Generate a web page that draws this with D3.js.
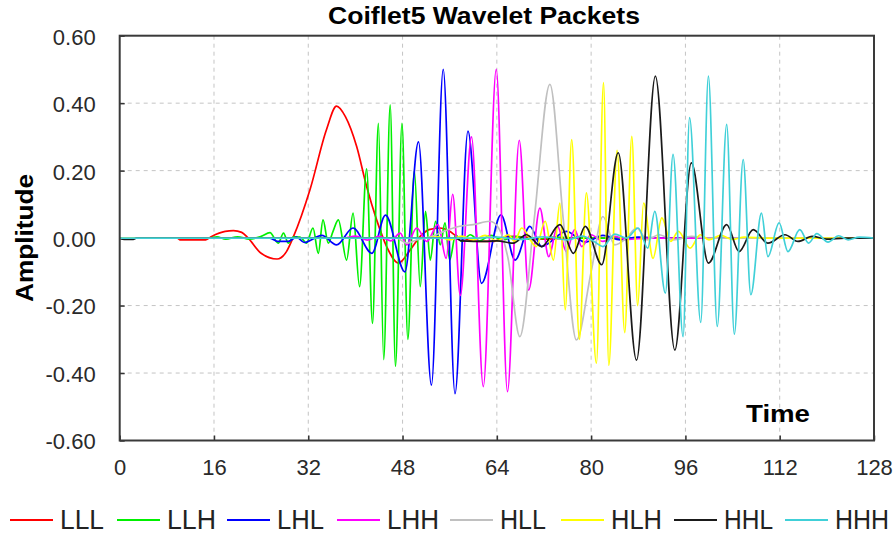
<!DOCTYPE html>
<html><head><meta charset="utf-8">
<script src="https://cdn.jsdelivr.net/npm/d3@7"></script>
<style>body{margin:0;background:#fff}svg{display:block}</style>
</head><body><svg id="c" width="895" height="537"></svg>
<script>
const seriesNames = ["LLL","LLH","LHL","LHH","HLL","HLH","HHL","HHH"];
const seriesColors = ["#ff0000","#00f000","#0000ff","#ff00ff","#c0c0c0","#ffff00","#1a1a1a","#40d0d8"];
const xTicks = [0,16,32,48,64,80,96,112,128];
const yTicks = [-0.6,-0.4,-0.2,0,0.2,0.4,0.6];

const LLL = [[0,0],[9.8,0],[10.2,-0.005],[14.6,-0.005],[15.6,0.005],[17.9,0.02],[19.3,0.022],[20.7,0.017],[21.8,0],[24,-0.045],[26.7,-0.062],[28.3,-0.04],[29.5,0.005],[32.3,0.144],[35.1,0.322],[36.8,0.391],[38.3,0.36],[40.2,0.272],[41.9,0.153],[43.6,0.054],[45.3,-0.025],[47.3,-0.074],[49.3,-0.035],[51,0.005],[52.5,0.025],[54.3,0.03],[56,0.02],[57.2,0.005],[59,-0.005],[61,-0.01],[63.3,-0.01],[66,0.005],[69,0.003],[72,-0.003],[76,0],[128,0]];
const LLH = [[0,0],[15.3,0],[16.5,0.004],[18,-0.003],[20,0.004],[22,-0.003],[24,0.005],[25.5,0.016],[26.9,-0.015],[27.8,0.015],[28.6,-0.015],[29.5,0.004],[30.6,0.003],[31.7,-0.015],[32.8,0.03],[33.7,-0.045],[34.5,0.054],[35.4,-0.015],[36.2,0.02],[37.1,0.054],[38.5,-0.065],[39.6,0.074],[40.7,-0.144],[41.9,0.205],[42.9,-0.253],[43.9,0.34],[44.8,-0.36],[45.9,0.395],[46.8,-0.38],[47.9,0.34],[48.9,-0.30],[50.0,0.20],[51.0,-0.144],[51.9,0.079],[52.7,-0.065],[53.6,0.05],[54.4,-0.02],[55.2,0.045],[56,-0.065],[57,0.01],[58,-0.01],[59.5,0.01],[61,-0.008],[63,0.008],[65,-0.006],[67,0.005],[70,-0.004],[74,0.003],[78,0],[128,0]];
const LHL = [[0,0],[25.5,0],[26.8,-0.01],[28.6,-0.01],[30,0.003],[31.3,-0.013],[34.3,0.008],[36.8,-0.02],[39.6,0.03],[42.8,-0.045],[45.1,0.068],[48.4,-0.10],[50.7,0.285],[52.9,-0.436],[54.9,0.50],[56.9,-0.461],[59.1,0.317],[61.4,-0.134],[64.7,0.069],[67.1,-0.065],[69.6,0.035],[71.6,-0.025],[75.8,0.02],[79,-0.012],[82,0.008],[85,-0.005],[88,0.003],[92,0],[128,0]];
const LHH = [[0,0],[38,0],[40,0.006],[42,-0.006],[44,0.005],[46,-0.008],[47.6,0.015],[48.7,-0.02],[50.4,0.03],[52.1,-0.01],[54.0,0.04],[55.4,-0.06],[56.5,0.13],[57.8,-0.17],[59.7,0.30],[61.7,-0.44],[63.9,0.50],[65.8,-0.455],[67.8,0.29],[69.4,-0.154],[71.3,0.089],[72.8,-0.055],[74.3,0.035],[75.8,-0.04],[77.2,0.025],[78.4,-0.025],[80,0.01],[82,-0.01],[84,0.005],[86,-0.004],[90,0],[128,0]];
const HLL = [[0,0],[47,0],[48.7,-0.015],[50.5,-0.005],[53,0.005],[55,0.02],[57.7,0.035],[60,0.04],[62.8,0.05],[64.3,0.03],[65.9,-0.06],[67.9,-0.292],[70.3,0.05],[73.0,0.456],[75.3,0.05],[77.5,-0.302],[80,-0.1],[82.0,0.064],[84,-0.02],[86,0.0],[87.7,0.03],[89.5,-0.005],[91.5,0.01],[94,-0.005],[97,0.005],[100,0],[128,0]];
const HLH = [[0,0],[52,0],[54,0.004],[56,-0.005],[58,0.006],[60,-0.006],[62,0.008],[64,-0.008],[66,0.01],[67,-0.01],[68.2,0.03],[70.7,-0.025],[72.2,0.05],[73.6,-0.065],[74.7,0.104],[75.6,-0.213],[76.7,0.292],[78.0,-0.30],[79.2,0.134],[80.9,-0.371],[82.1,0.461],[83.0,-0.377],[84.4,0.26],[85.7,-0.28],[86.9,0.302],[87.9,-0.2],[88.9,0.104],[90.5,-0.06],[92,0.06],[93.5,-0.01],[94.8,0.02],[96.8,-0.03],[98.5,0.01],[100,-0.005],[102,0.008],[104,-0.004],[106,0.003],[110,0],[128,0]];
const HHL = [[0,0],[0.8,-0.004],[2.3,-0.004],[2.8,0],[57,0],[58,-0.008],[62,-0.01],[64,-0.008],[66.8,-0.015],[69,0.01],[71.6,-0.025],[74.7,0.04],[77,-0.045],[79,0.035],[81.8,-0.079],[84.6,0.253],[87.7,-0.362],[90.9,0.48],[94.2,-0.332],[97.0,0.223],[99.9,-0.074],[103,0.04],[105.1,-0.04],[107.5,0.025],[110,-0.015],[112.9,0.01],[115.1,-0.01],[117.5,0.005],[120,-0.003],[123,0],[128,0]];
const HHH = [[0,0],[60,0],[64,0.003],[68,-0.004],[72,0.004],[76,-0.005],[78.5,0.006],[80.5,-0.01],[82,-0.025],[84,0.012],[86,0.0],[88,0.03],[89.6,-0.03],[90.8,0.079],[92.6,-0.163],[93.9,0.248],[95.6,-0.292],[96.7,0.357],[98.6,-0.25],[99.9,0.48],[101.4,-0.262],[103.0,0.337],[104.3,-0.285],[105.8,0.233],[107.1,-0.168],[108.9,0.074],[110,-0.055],[111.9,0.045],[113.4,-0.04],[115.4,0.025],[116.9,-0.015],[118.3,0.013],[120.2,-0.012],[122,0.007],[123.6,-0.005],[125.5,0.003],[128,0]];
const seriesData = [LLL,LLH,LHL,LHH,HLL,HLH,HHL,HHH];

const svg = d3.select("#c");
const L = 119.7, R = 874, T = 35.7, B = 440.5;
const x = d3.scaleLinear().domain([0,128]).range([L,R]);
const y = d3.scaleLinear().domain([-0.6,0.6]).range([B,T]);
const font = "Arial, 'Liberation Sans', sans-serif";
const fmtY = d => d.toFixed(2).replace("\u2212","-");

// title
svg.append("text").attr("x",484).attr("y",24).attr("text-anchor","middle")
  .attr("font-family",font).attr("font-weight","bold").attr("font-size",23)
  .attr("textLength",312).attr("lengthAdjust","spacingAndGlyphs")
  .text("Coiflet5 Wavelet Packets");

// grid
const g = svg.append("g");
g.selectAll(".gx").data(xTicks.slice(1,-1)).enter().append("line")
  .attr("x1",d=>x(d)).attr("x2",d=>x(d)).attr("y1",T).attr("y2",B)
  .attr("stroke","#c4c4c4").attr("stroke-width",1).attr("stroke-dasharray","4,4");
g.selectAll(".gy").data(yTicks.slice(1,-1)).enter().append("line")
  .attr("x1",L).attr("x2",R).attr("y1",d=>y(d)).attr("y2",d=>y(d))
  .attr("stroke","#c4c4c4").attr("stroke-width",1).attr("stroke-dasharray","4,4");

// axes
const yAxis = d3.axisLeft(y).tickValues(yTicks).tickFormat(fmtY).tickSize(-5).tickPadding(24);
const xAxis = d3.axisBottom(x).tickValues(xTicks).tickFormat(d3.format("d")).tickSize(-5).tickPadding(22);
const ya = svg.append("g").attr("transform",`translate(${L},0)`).call(yAxis);
const xa = svg.append("g").attr("transform",`translate(0,${B})`).call(xAxis);
[ya,xa].forEach(a=>{
  a.select(".domain").remove();
  a.selectAll(".tick line").attr("stroke","#333").attr("stroke-width",1.5);
  a.selectAll("text").attr("font-family",font).attr("font-size",22).attr("fill","#2a2a2a");
});
ya.selectAll("text").attr("dy","0.38em");
xa.selectAll("text").attr("dy","0.55em");

// clip
svg.append("clipPath").attr("id","clip").append("rect")
  .attr("x",L).attr("y",T).attr("width",R-L).attr("height",B-T);

const line = d3.line().x(d=>x(d[0])).y(d=>y(d[1])).curve(d3.curveMonotoneX);
const lines = svg.append("g").attr("clip-path","url(#clip)");
seriesData.forEach((s,i)=>{
  lines.append("path").datum(s).attr("d",line).attr("fill","none")
    .attr("stroke",seriesColors[i]).attr("stroke-width",1.7).attr("stroke-linejoin","round");
});

// frame
svg.append("rect").attr("x",L).attr("y",T).attr("width",R-L).attr("height",B-T)
  .attr("fill","none").attr("stroke","#3a3a3a").attr("stroke-width",2);

// axis titles
svg.append("text").attr("transform","translate(33,238) rotate(-90)").attr("text-anchor","middle")
  .attr("font-family",font).attr("font-weight","bold").attr("font-size",24)
  .attr("textLength",128).attr("lengthAdjust","spacingAndGlyphs").text("Amplitude");
svg.append("text").attr("x",746).attr("y",422)
  .attr("font-family",font).attr("font-weight","bold").attr("font-size",24)
  .attr("textLength",64).attr("lengthAdjust","spacingAndGlyphs").text("Time");

// legend
const legendX = [10,117,227,337,450,561,674,785];
const legendW = [44,49,47,52,46,51,49,54];
const lg = svg.append("g");
seriesNames.forEach((n,i)=>{
  const lx = legendX[i];
  lg.append("line").attr("x1",lx).attr("x2",lx+43).attr("y1",520).attr("y2",520)
    .attr("stroke",seriesColors[i]).attr("stroke-width",2);
  lg.append("text").attr("x",lx+50).attr("y",528.5)
    .attr("font-family","'Liberation Sans Narrow', Arial, 'Liberation Sans', sans-serif").attr("font-size",28).attr("fill","#222")
    .attr("textLength",legendW[i]).attr("lengthAdjust","spacingAndGlyphs").text(n);
});
</script></body></html>
